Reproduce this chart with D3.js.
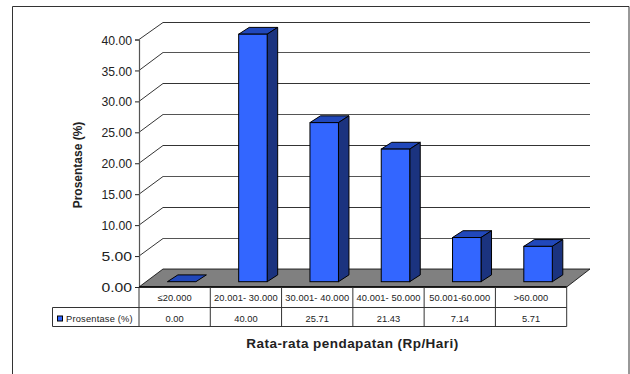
<!DOCTYPE html>
<html>
<head>
<meta charset="utf-8">
<script src="https://cdn.jsdelivr.net/npm/d3@7"></script>
<style>
html,body{margin:0;padding:0;background:#fff}
svg{display:block}
text{font-family:"Liberation Sans",Arial,sans-serif;fill:#222}
</style>
</head>
<body>
<svg id="chart" width="630" height="374"></svg>
<script>
const categories = ["≤20.000", "20.001- 30.000", "30.001- 40.000", "40.001- 50.000", "50.001-60.000", ">60.000"];
const values = [0, 40, 25.71, 21.43, 7.14, 5.71];
const valueLabels = ["0.00", "40.00", "25.71", "21.43", "7.14", "5.71"];
const yTicks = [0, 5, 10, 15, 20, 25, 30, 35, 40];
const seriesName = "Prosentase (%)";
const xTitle = "Rata-rata pendapatan (Rp/Hari)";
const yTitle = "Prosentase (%)";

const svg = d3.select("#chart");
const x = d3.scaleBand().domain(categories).range([139, 566.7]);
const y = d3.scaleLinear().domain([0, 40]).range([287, 39.5]);

// Oblique projection: wall depth and the bar's placement and depth inside the floor
const wall = {dx: 24, dy: -18};
const inset = {dx: 7, dy: -5.3};
const depth = {dx: 10.5, dy: -6.8};
const barW = 28.5;

const colors = {front: "#3366ff", top: "#2148bb", side: "#1b337f", floor: "#808080", ink: "#000"};

// Outer frame, open at the bottom edge of the page
svg.append("path").attr("d", "M12.5,374V6.5H629V374").attr("fill", "none").attr("stroke", "#333").attr("stroke-width", 1);

// Floor
const floorPts = [[x.range()[0], y(0)], [x.range()[0] + wall.dx, y(0) + wall.dy], [x.range()[1] + wall.dx - 0.7, y(0) + wall.dy], [x.range()[1], y(0)]];
svg.append("polygon").attr("points", floorPts.join(" ")).attr("fill", colors.floor).attr("stroke", "#000").attr("stroke-width", 0.8);

// Back wall gridlines and their diagonals along the side wall
const grid = svg.append("g");
yTicks.slice(1).forEach((t, i) => {
  const py = Math.round(y(t)) + 0.5;
  grid.append("line")
    .attr("x1", x.range()[0] + wall.dx).attr("x2", x.range()[1] + wall.dx - 0.7)
    .attr("y1", py + wall.dy).attr("y2", py + wall.dy)
    .attr("stroke", i % 2 === 0 ? "#555" : "#000")
    .attr("stroke-width", i % 2 === 0 ? 1 : 0.8);
  grid.append("line")
    .attr("x1", x.range()[0]).attr("x2", x.range()[0] + wall.dx)
    .attr("y1", y(t)).attr("y2", py + wall.dy)
    .attr("stroke", "#000").attr("stroke-width", 0.8);
});

// Y axis
const yAxis = svg.append("g").attr("transform", `translate(${x.range()[0]},0)`)
  .call(d3.axisLeft(y).tickValues(yTicks).tickFormat(d3.format(".2f")).tickSize(4).tickPadding(3));
yAxis.select(".domain").attr("stroke", "#555").attr("stroke-width", 1.2);
yAxis.selectAll(".tick line").attr("stroke", "#222");
yAxis.selectAll(".tick text")
  .style("font-family", '"Liberation Sans",Arial,sans-serif').style("font-size", "13.5px").style("fill", "#222")
  .attr("dy", "0.34em").attr("textLength", 30.6).attr("lengthAdjust", "spacingAndGlyphs");

// Bars: top, side and front faces
const bars = svg.append("g").selectAll("g").data(categories.map((c, i) => ({c, v: values[i]}))).join("g")
  .attr("transform", d => `translate(${x(d.c) + x.bandwidth() / 2 + inset.dx - barW / 2},${y(0) + inset.dy})`);
const hgt = d => y(0) - y(d.v);
bars.append("polygon")
  .attr("points", d => { const h = hgt(d); return [[0, -h], [depth.dx, -h + depth.dy], [barW + depth.dx, -h + depth.dy], [barW, -h]].join(" "); })
  .attr("fill", colors.top).attr("stroke", colors.ink).attr("stroke-width", 1);
bars.filter(d => d.v > 0).append("polygon")
  .attr("points", d => { const h = hgt(d); return [[barW, 0], [barW + depth.dx, depth.dy], [barW + depth.dx, -h + depth.dy], [barW, -h]].join(" "); })
  .attr("fill", colors.side).attr("stroke", colors.ink).attr("stroke-width", 1);
bars.filter(d => d.v > 0).append("rect")
  .attr("x", 0).attr("y", d => -hgt(d)).attr("width", barW).attr("height", hgt)
  .attr("fill", colors.front).attr("stroke", colors.ink).attr("stroke-width", 1);

// Data table under the chart
const rowY = [287, 307.5, 326.5];
const legendX = 52.5;
const table = svg.append("g");
const hLine = (x1, x2, py, c, w) => table.append("line").attr("x1", x1).attr("x2", x2).attr("y1", py).attr("y2", py).attr("stroke", c).attr("stroke-width", w);
const vLine = (px, y1, y2) => table.append("line").attr("x1", px).attr("x2", px).attr("y1", y1).attr("y2", y2).attr("stroke", "#333").attr("stroke-width", 1);
hLine(x.range()[0], x.range()[1], rowY[0], "#000", 1.3);
hLine(legendX, x.range()[1], rowY[1], "#333", 1);
hLine(legendX, x.range()[1], rowY[2], "#333", 1);
vLine(legendX, rowY[1], rowY[2]);
vLine(x.range()[0], rowY[0], rowY[2]);
categories.forEach(c => vLine(x(c) + x.bandwidth(), rowY[0], rowY[2]));

const cellText = (sel, yPos) => sel.attr("x", d => x(d.c) + x.bandwidth() / 2).attr("y", yPos)
  .attr("text-anchor", "middle").attr("font-size", 9.3);
table.selectAll("text.cat").data(categories.map(c => ({c}))).join("text").attr("class", "cat")
  .call(cellText, 300.5).attr("letter-spacing", 0.1).text(d => d.c);
table.selectAll("text.val").data(categories.map((c, i) => ({c, l: valueLabels[i]}))).join("text").attr("class", "val")
  .call(cellText, 322).text(d => d.l);

table.append("rect").attr("x", 57.5).attr("y", 316).attr("width", 5).attr("height", 5)
  .attr("fill", colors.front).attr("stroke", "#000").attr("stroke-width", 1);
table.append("text").attr("x", 66).attr("y", 322).attr("font-size", 9.3).attr("letter-spacing", 0.2).text(seriesName);

// Axis titles
svg.append("text").attr("x", 352.5).attr("y", 348).attr("text-anchor", "middle")
  .attr("font-size", 13.5).attr("font-weight", "bold").attr("letter-spacing", 0.45).text(xTitle);
svg.append("text").attr("transform", "translate(82,165) rotate(-90)").attr("text-anchor", "middle")
  .attr("font-size", 12).attr("font-weight", "bold").text(yTitle);
</script>
</body>
</html>
